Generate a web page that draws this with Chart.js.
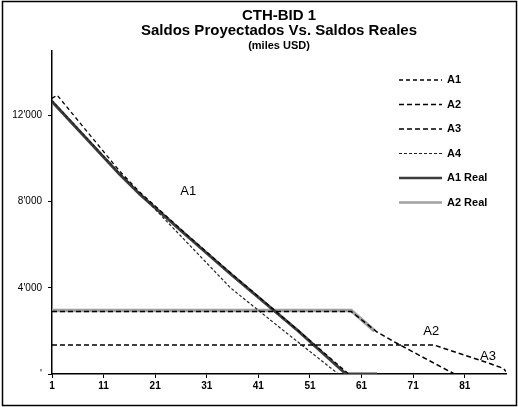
<!DOCTYPE html>
<html>
<head>
<meta charset="utf-8">
<script src="https://cdn.jsdelivr.net/npm/chart.js@4/dist/chart.umd.min.js"></script>
<style>
  html, body { margin: 0; padding: 0; background: #fff; }
  #wrap { width: 518px; height: 407px; }
</style>
</head>
<body>
<div id="wrap"><canvas id="saldosChart" width="518" height="407"></canvas></div>
<script>
// axis ticks
const xTicks = [1, 11, 21, 31, 41, 51, 61, 71, 81];
const yTicks = [0, 4000, 8000, 12000];
const yTickLabels = ["'", "4'000", "8'000", "12'000"];

// series (period, balance in miles USD)
const a1X = [1, 2, 14, 18, 27, 35.6, 48.6, 58.5];
const a1Y = [12800, 12950, 9450, 8450, 6500, 4700, 2050, 0];
const a2X = [1, 59, 64, 68.2, 79];
const a2Y = [2900, 2900, 1950, 1380, 0];
const a3X = [1, 75, 80, 85, 88.5, 89];
const a3Y = [1350, 1350, 950, 560, 260, 120];
const a4X = [1, 14, 18, 27, 35.6, 45.7, 56.5];
const a4Y = [12700, 9350, 8400, 6150, 4000, 2050, 0];
const a1RealX = [1, 14, 18, 27, 35.6, 48.6, 58, 64];
const a1RealY = [12650, 9300, 8350, 6450, 4650, 2030, 0, 0];
const a2RealX = [1, 59, 63.5];
const a2RealY = [2950, 2950, 2000];

const seriesNames = ['A1', 'A2', 'A3', 'A4', 'A1 Real', 'A2 Real'];

// text labels written inside the plot
const plotNotes = [
    { text: 'A1', x: 27.4, y: 8500 },
    { text: 'A2', x: 74.5, y: 2000 },
    { text: 'A3', x: 85.5, y: 830 }
];

function pts(xs, ys) {
    return xs.map((x, i) => ({ x: x, y: ys[i] }));
}

const lineStyles = [
    { borderColor: '#000', borderWidth: 1.3, borderDash: [4, 3] },
    { borderColor: '#000', borderWidth: 1.5, borderDash: [5, 3] },
    { borderColor: '#000', borderWidth: 1.5, borderDash: [5, 3] },
    { borderColor: '#222', borderWidth: 1.2, borderDash: [3, 2] },
    { borderColor: '#3c3c3c', borderWidth: 3, borderDash: [] },
    { borderColor: '#a0a0a0', borderWidth: 3.5, borderDash: [] }
];

const seriesPoints = [
    pts(a1X, a1Y), pts(a2X, a2Y), pts(a3X, a3Y), pts(a4X, a4Y),
    pts(a1RealX, a1RealY), pts(a2RealX, a2RealY)
];

const datasets = seriesNames.map((name, i) => Object.assign({
    label: name,
    data: seriesPoints[i],
    pointRadius: 0,
    tension: 0,
    fill: false
}, lineStyles[i]));

// white page + frame round the whole picture
const framePlugin = {
    id: 'frame',
    beforeDraw(chart) {
        const c = chart.ctx;
        c.save();
        c.fillStyle = '#fff';
        c.fillRect(0, 0, chart.width, chart.height);
        c.restore();
    },
    afterDraw(chart) {
        const c = chart.ctx;
        c.save();
        c.strokeStyle = '#000';
        c.lineWidth = 1.5;
        c.strokeRect(2.5, 1.5, chart.width - 4, chart.height - 3);
        c.restore();
    }
};

// legend drawn inside the plot, right side
const innerLegend = {
    id: 'innerLegend',
    afterDatasetsDraw(chart) {
        const c = chart.ctx;
        c.save();
        chart.data.datasets.forEach((ds, i) => {
            const y = 80 + i * 24.5;
            c.beginPath();
            c.strokeStyle = ds.borderColor;
            c.lineWidth = Math.min(ds.borderWidth, 2.5);
            c.setLineDash(ds.borderDash || []);
            c.moveTo(399, y);
            c.lineTo(442, y);
            c.stroke();
            c.setLineDash([]);
            c.fillStyle = '#000';
            c.font = 'bold 11px "Liberation Sans", Arial, sans-serif';
            c.textBaseline = 'middle';
            c.fillText(ds.label, 447, y);
        });
        c.restore();
    }
};

const notesPlugin = {
    id: 'notes',
    afterDatasetsDraw(chart) {
        const c = chart.ctx;
        const xs = chart.scales.x, ys = chart.scales.y;
        c.save();
        c.fillStyle = '#000';
        c.font = '13px "Liberation Sans", Arial, sans-serif';
        c.textAlign = 'center';
        c.textBaseline = 'middle';
        plotNotes.forEach(n => {
            c.fillText(n.text, xs.getPixelForValue(n.x), ys.getPixelForValue(n.y));
        });
        c.restore();
    }
};

const ctx = document.getElementById('saldosChart').getContext('2d');
const saldosChart = new Chart(ctx, {
    type: 'line',
    data: { datasets: datasets },
    options: {
        responsive: false,
        animation: false,
        layout: { padding: { left: 0, right: 12, top: 0, bottom: 0 } },
        plugins: {
            legend: { display: false },
            tooltip: { enabled: false },
            title: {
                display: true,
                fullSize: false,
                text: ['CTH-BID 1', 'Saldos Proyectados Vs. Saldos Reales'],
                color: '#000',
                font: { family: '"Liberation Sans", Arial, sans-serif', size: 15, weight: 'bold', lineHeight: 1.0 },
                padding: { top: 8, bottom: 0 }
            },
            subtitle: {
                display: true,
                fullSize: false,
                text: '(miles USD)',
                color: '#000',
                font: { family: '"Liberation Sans", Arial, sans-serif', size: 11, weight: 'bold', lineHeight: 1.0 },
                padding: { top: 2, bottom: 0 }
            }
        },
        scales: {
            x: {
                type: 'linear',
                min: 1,
                max: 89,
                afterBuildTicks: axis => { axis.ticks = xTicks.map(v => ({ value: v })); },
                afterFit: axis => { axis.height = 33; },
                ticks: {
                    color: '#000',
                    font: { family: '"Liberation Sans", Arial, sans-serif', size: 10, weight: 'bold' },
                    padding: 2,
                    maxRotation: 0,
                    autoSkip: false
                },
                grid: { drawOnChartArea: false, drawTicks: true, tickLength: 4, color: '#000' },
                border: { color: '#000', width: 1.5 }
            },
            y: {
                min: 0,
                max: 15000,
                afterBuildTicks: axis => { axis.ticks = yTicks.map(v => ({ value: v })); },
                afterFit: axis => { axis.width = 52; },
                ticks: {
                    color: '#000',
                    font: { family: '"Liberation Sans", Arial, sans-serif', size: 10 },
                    padding: 6,
                    callback: (value, index) => yTickLabels[index]
                },
                grid: { drawOnChartArea: false, drawTicks: true, tickLength: 4, color: '#000' },
                border: { color: '#000', width: 1.5 }
            }
        }
    },
    plugins: [framePlugin, innerLegend, notesPlugin]
});
</script>
</body>
</html>
